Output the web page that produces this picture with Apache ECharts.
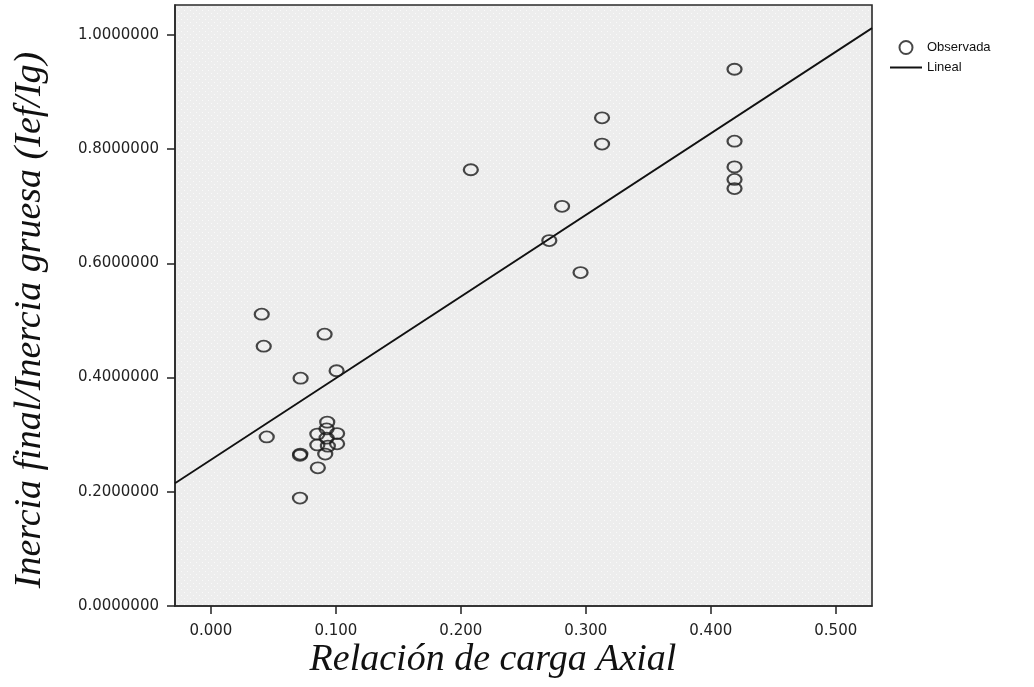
<!DOCTYPE html>
<html>
<head>
<meta charset="utf-8">
<script src="https://cdn.jsdelivr.net/npm/echarts@6/dist/echarts.min.js"></script>
<style>
html,body{margin:0;padding:0;background:#fff;}
#c{width:1034px;height:687px;}
</style>
</head>
<body>
<div id="c"></div>
<script>
// Observed points (Relación de carga Axial, Ief/Ig)
const obsX = [0.0407, 0.0423, 0.0447, 0.0718, 0.0713, 0.0716, 0.0713, 0.0910, 0.1006,
              0.0931, 0.0926, 0.0852, 0.1010, 0.0926, 0.0852, 0.0936, 0.1010, 0.0915, 0.0856,
              0.2080, 0.2708, 0.2810, 0.2958, 0.3130, 0.3130,
              0.4190, 0.4190, 0.4190, 0.4190, 0.4190];
const obsY = [0.511, 0.455, 0.296, 0.399, 0.264, 0.266, 0.189, 0.476, 0.412,
              0.322, 0.310, 0.301, 0.302, 0.294, 0.282, 0.280, 0.284, 0.266, 0.242,
              0.764, 0.640, 0.700, 0.584, 0.855, 0.809,
              0.940, 0.814, 0.769, 0.747, 0.731];
// Linear fit line endpoints
const lineX = [-0.0287, 0.529];
const lineY = [0.215, 1.012];
// Axis ticks
const xTicks = [0.0, 0.1, 0.2, 0.3, 0.4, 0.5];
const yTicks = [0.0, 0.2, 0.4, 0.6, 0.8, 1.0];
const xRange = [-0.0287, 0.529];
const yRange = [0, 1.0525];

// subtle dotted background texture
const pat = document.createElement('canvas');
pat.width = 6; pat.height = 6;
const pctx = pat.getContext('2d');
pctx.fillStyle = '#ededed'; pctx.fillRect(0, 0, 6, 6);
pctx.fillStyle = '#fafafa';
pctx.fillRect(1, 1, 1, 1);
pctx.fillRect(4, 4, 1, 1);

const chart = echarts.init(document.getElementById('c'), null, {renderer: 'canvas'});
const tickFont = 'DejaVu Sans';
chart.setOption({
  backgroundColor: '#ffffff',
  animation: false,
  grid: {
    left: 175, right: 162, top: 5, bottom: 81,
    show: true, backgroundColor: {image: pat, repeat: 'repeat'}, borderColor: '#2a2a2a', borderWidth: 1.6
  },
  legend: {
    orient: 'vertical', left: 884, top: 35,
    itemWidth: 32, itemHeight: 13, itemGap: 6,
    textStyle: {fontFamily: 'Liberation Sans', fontSize: 13, color: '#111'},
    data: ['Observada', {name: 'Lineal', itemStyle: {opacity: 0}}]
  },
  xAxis: {
    type: 'value', min: xRange[0], max: xRange[1],
    splitLine: {show: false},
    axisLine: {show: true, onZero: false, lineStyle: {color: '#2a2a2a', width: 1.6}},
    axisTick: {show: true, length: 8, customValues: xTicks, lineStyle: {color: '#222', width: 1.5}},
    axisLabel: {customValues: xTicks, margin: 18, fontFamily: tickFont, fontSize: 15, color: '#222',
      formatter: v => v.toFixed(3)}
  },
  yAxis: {
    type: 'value', min: yRange[0], max: yRange[1],
    splitLine: {show: false},
    axisLine: {show: true, onZero: false, lineStyle: {color: '#2a2a2a', width: 1.6}},
    axisTick: {show: true, length: 8, customValues: yTicks, lineStyle: {color: '#222', width: 1.5}},
    axisLabel: {customValues: yTicks, margin: 16, fontFamily: tickFont, fontSize: 15, color: '#222',
      formatter: v => v.toFixed(7)}
  },
  series: [
    {
      name: 'Observada', type: 'scatter',
      symbol: 'circle', symbolSize: [14, 11],
      itemStyle: {color: 'rgba(0,0,0,0)', borderColor: '#1a1a1a', borderWidth: 2},
      data: obsX.map((x, i) => [x, obsY[i]]),
      z: 3
    },
    {
      name: 'Lineal', type: 'line', symbol: 'none', showSymbol: false,
      lineStyle: {color: '#111', width: 1.8},
      itemStyle: {color: '#111'},
      data: lineX.map((x, i) => [x, lineY[i]]),
      z: 2
    }
  ],
  graphic: [
    {
      type: 'text', x: 493, y: 660,
      style: {text: 'Relación de carga Axial', font: 'italic 38px "Liberation Serif"',
        fill: '#111', textAlign: 'center', textVerticalAlign: 'middle'}
    },
    {
      type: 'text', x: 30, y: 320, rotation: Math.PI / 2,
      style: {text: 'Inercia final/Inercia gruesa (Ief/Ig)', font: 'italic 38px "Liberation Serif"',
        fill: '#111', textAlign: 'center', textVerticalAlign: 'middle'}
    }
  ]
});
</script>
</body>
</html>
